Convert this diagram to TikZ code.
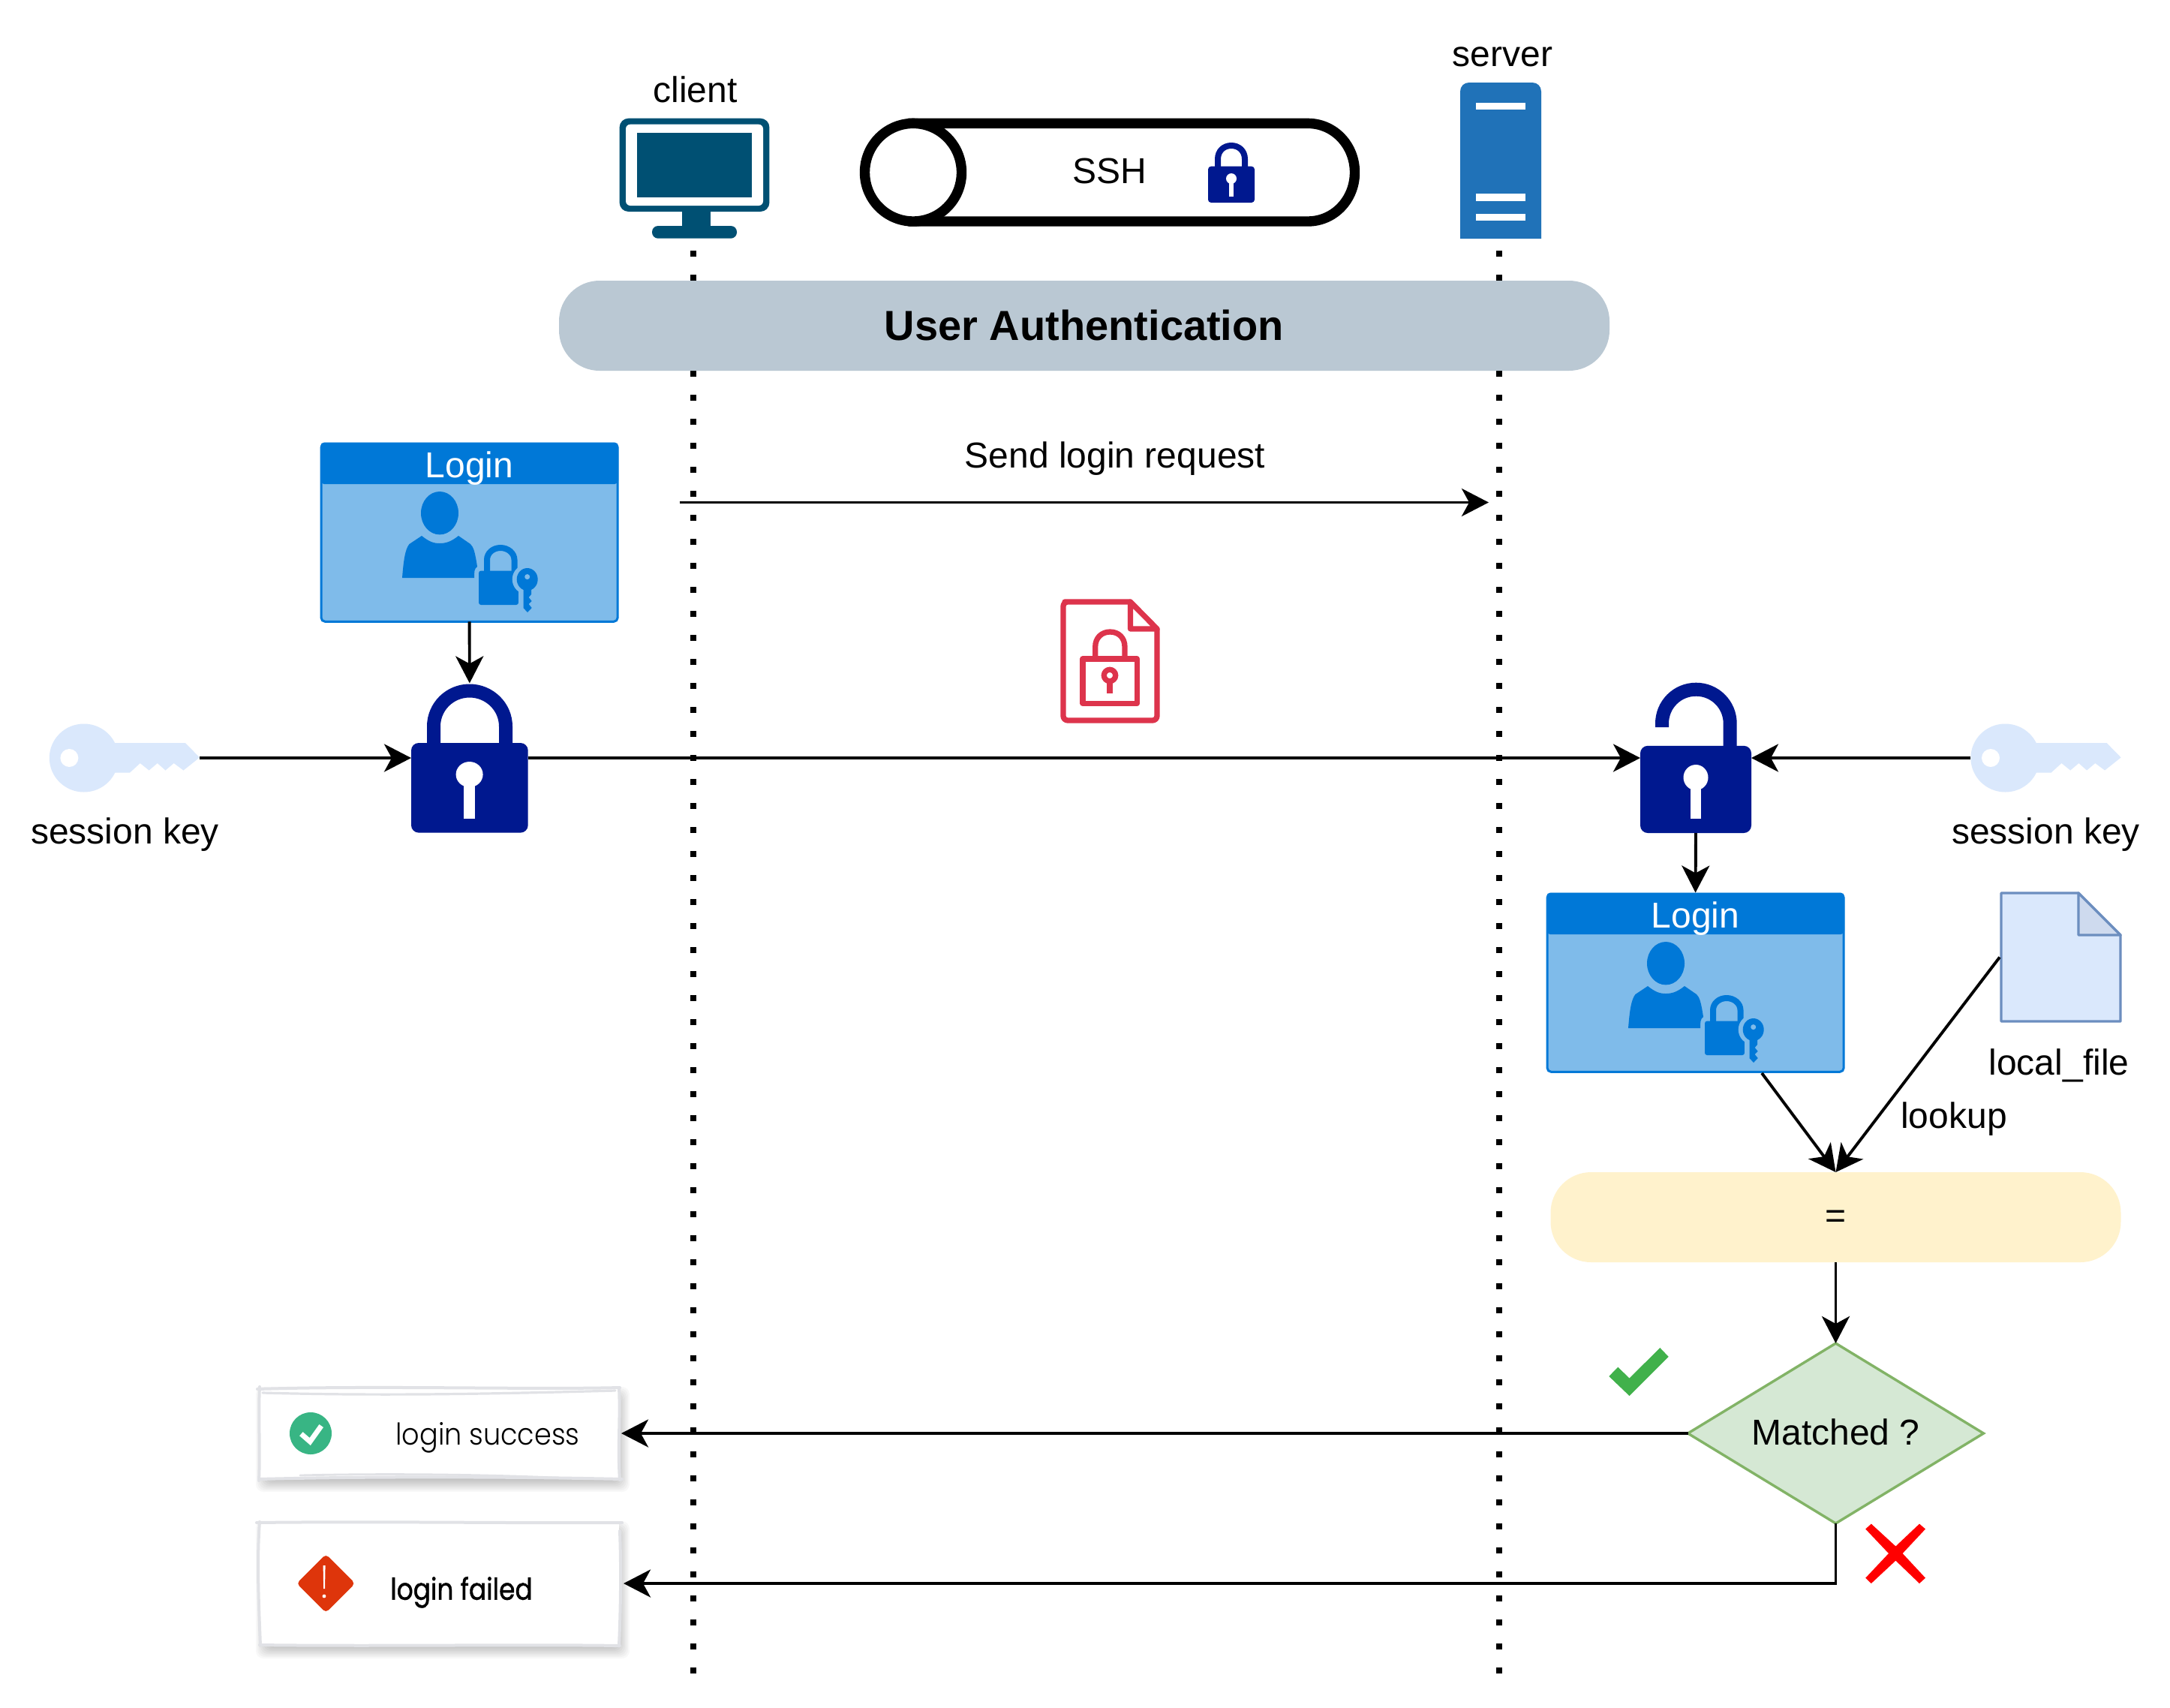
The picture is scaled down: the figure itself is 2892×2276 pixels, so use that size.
\documentclass[tikz,border=0pt]{standalone}
\usepackage{fontspec}
\setmainfont{Liberation Sans}
\newfontfamily\handfont{Poppins Light}
\newfontfamily\handboldfont[FakeBold=1.2]{Poppins}
\usetikzlibrary{arrows.meta,shapes.geometric,fit,calc}
\definecolor{lockblue}{HTML}{00188F}
\definecolor{monitorblue}{HTML}{005073}
\definecolor{serverblue}{HTML}{2072B8}
\definecolor{loginblue}{HTML}{0078D7}
\definecolor{panelblue}{HTML}{7FBBEA}
\definecolor{keyblue}{HTML}{DAE8FC}
\definecolor{filestroke}{HTML}{6C8EBF}
\definecolor{filefold}{HTML}{CEDAEE}
\definecolor{barfill}{HTML}{BAC8D3}
\definecolor{eqfill}{HTML}{FFF2CC}
\definecolor{decfill}{HTML}{D5E8D4}
\definecolor{decstroke}{HTML}{82B366}
\definecolor{docred}{HTML}{DD344C}
\definecolor{tickgreen}{HTML}{41B14B}
\definecolor{okgreen}{HTML}{38B584}
\definecolor{alertred}{HTML}{DE350B}
\definecolor{sketchgray}{HTML}{E1E2E6}
\tikzset{
  x=0.5pt,y=-0.5pt,
  every node/.style={font=\fontsize{24pt}{28pt}\selectfont,inner sep=0pt,outer sep=0pt},
  conn/.style={draw=black,line width=1.95pt,-{Stealth[length=18pt,width=18.5pt,inset=5pt]}},
  lifeline/.style={draw=black,line width=4pt,dash pattern=on 4pt off 12pt},
  label/.style={anchor=base,text=black},
  pill/.style={rounded corners=27pt,minimum height=60pt},
  bound/.style={inner sep=0pt,outer sep=0pt},
  sketchline/.style={draw=sketchgray,line width=2pt,line cap=round},
}
\newcommand{\bigkey}[3]{%
 \begin{scope}[shift={(#2,#3)}]
  \node[bound,fit={(65.8,964.5)(266,1055.5)}] (#1) {};
  \fill[keyblue] (111.8,1010) ellipse[x radius=46,y radius=45.5];
  \fill[keyblue] (140,990) -- (247,990) -- (266,1009.4) -- (244.5,1026.5) -- (231.7,1017) -- (220.5,1026.5) -- (209.8,1017) -- (198.6,1026.5) -- (186.8,1017) -- (173,1029.6) -- (140,1029.6) -- cycle;
  \fill[white] (92.4,1010) ellipse[x radius=12,y radius=12];
 \end{scope}}
\newcommand{\keyholeshape}[6]{% cx cy rx ry stemhalf stemend
  \fill[white] (#1,#2) ellipse[x radius=#3,y radius=#4];
  \fill[white] ({#1-#5},#2) rectangle ({#1+#5},#6);}
\newcommand{\loginpanel}[3]{%
 \begin{scope}[shift={(#2,#3)}]
  \node[draw=loginblue,line width=1.5pt,fill=panelblue,rounded corners=2.5pt,minimum width=197.5pt,minimum height=118.5pt] (#1) at (625.6,709.75) {};
  \node[fill=loginblue,rounded corners=2.5pt,minimum width=198.5pt,minimum height=27.3pt,text=white,text height=23.5pt,text depth=4.3pt] (#1title) at (625.6,617.3) {Login};
  \fill[loginblue] (586,683.7) ellipse[x radius=25,y radius=28.7];
  \fill[loginblue] (536,770) .. controls (538,745) and (540,732) .. (545.5,725) -- (562,714) .. controls (572,722) and (578,724) .. (586,724) .. controls (594,724) and (601,722) .. (611,714) -- (627,725) .. controls (631,729) and (633,735) .. (636,755) .. controls (632,758) and (632,762) .. (632,770) -- cycle;
  \draw[loginblue,line width=4pt] (649,762) -- (649,746) .. controls (649,737) and (657,730) .. (667,730) .. controls (677,730) and (685.5,737) .. (685.5,746) -- (685.5,762);
  \fill[loginblue,rounded corners=1.5pt] (638,760.6) rectangle (691,806);
  \fill[panelblue] (702.7,772) ellipse[x radius=20,y radius=20];
  \fill[panelblue] (691,780) rectangle (696,807);
  \fill[loginblue] (702.7,772) ellipse[x radius=14,y radius=15];
  \fill[panelblue] (702.7,768.6) ellipse[x radius=3.5,y radius=3.5];
  \fill[loginblue] (697.5,783) -- (708,783) -- (708,792) -- (704.7,796) -- (708.7,801) -- (704.7,805) -- (708.7,810) -- (703,816) -- (697.5,810) -- cycle;
 \end{scope}}
\newcommand{\softshadow}[4]{% x1 y1 x2 y2
  \foreach \s in {0,2,...,18}{
    \fill[black,opacity=0.028,rounded corners=5pt] ({#1+4-10+\s},{#2+6-10+\s}) rectangle ({#3+4+10-\s},{#4+6+10-\s});
  }}
\begin{document}
\begin{tikzpicture}
\useasboundingbox (0,0) rectangle (2892,2276);
\fill[white] (0,0) rectangle (2892,2276);

% lifelines
\coordinate (clientTop) at (924,334);
\coordinate (clientEnd) at (924,2230);
\coordinate (serverTop) at (1998,334);
\coordinate (serverEnd) at (1998,2230);
\draw[lifeline] (clientTop) -- (clientEnd);
\draw[lifeline] (serverTop) -- (serverEnd);

% client icon
\node[bound,fit={(825.6,157.7)(1025.4,317.7)}] (clientIcon) {};
\fill[monitorblue,rounded corners=6pt] (825.6,157.7) rectangle (1025.4,282);
\fill[white,rounded corners=3pt] (834,165.7) rectangle (1017,274);
\fill[monitorblue] (849,176.7) rectangle (1002,262.7);
\fill[monitorblue] (909,280) rectangle (947,303);
\fill[monitorblue,rounded corners=4pt] (869,301) rectangle (982,317.7);
\node[label] (clientLabel) at (926.5,136.5) {client};

% server icon
\node[bound,fit={(1946,110)(2054,318)}] (serverIcon) {};
\fill[serverblue] (1946,318) -- (1946,122) .. controls (1946,115) and (1951,110) .. (1958,110) -- (2042,110) .. controls (2049,110) and (2054,115) .. (2054,122) -- (2054,318) -- cycle;
\fill[white] (1967,136.7) rectangle (2033,145.7);
\fill[white] (1967,258) rectangle (2033,268);
\fill[white] (1967,285) rectangle (2033,294);
\node[label] (serverLabel) at (2002.6,88) {server};

% SSH tunnel
\node[bound,fit={(1146,157.7)(1813,301.7)}] (tunnel) {};
\draw[black,line width=6.7pt,fill=white] (1217,164.4) -- (1743,164.4) .. controls (1778,164.4) and (1805.5,193.6) .. (1805.5,229.7) .. controls (1805.5,265.8) and (1778,295) .. (1743,295) -- (1217,295) -- cycle;
\draw[black,line width=6.7pt,fill=white] (1217,229.7) ellipse[x radius=64.5,y radius=65.3];
\node[label] (sshLabel) at (1479,244.5) {SSH};
\draw[lockblue,line width=4pt] (1623,224) -- (1623,212) .. controls (1623,201) and (1631,194) .. (1641,194) .. controls (1651,194) and (1659,201) .. (1659,212) -- (1659,224);
\fill[lockblue,rounded corners=2pt] (1610,221.7) rectangle (1672,270);
\keyholeshape{1641}{238}{7}{7}{3}{261.7}

% bar
\node[pill,fill=barfill,minimum width=700pt,text height=23.5pt,text depth=4.3pt,font=\fontsize{28pt}{32pt}\selectfont\bfseries] (authBar) at (1445,434) {User Authentication};

% request
\coordinate (reqFrom) at (905.5,669.5);
\coordinate (reqTo) at (1984,669.5);
\draw[conn] (reqFrom) -- (reqTo);
\node[label] (reqLabel) at (1486,623) {Send login request};

% panels
\loginpanel{panelL}{0}{0}
\loginpanel{panelR}{1634}{600}

% keys
\bigkey{keyL}{0}{0}
\bigkey{keyR}{2560.6}{0}
\node[label] (keyLabelL) at (166.4,1124.5) {session key};
\node[label] (keyLabelR) at (2726.5,1124.5) {session key};

% closed lock
\node[bound,fit={(548,910.4)(703.7,1109.6)}] (lockL) {};
\draw[lockblue,line width=9pt] (578,995) -- (578,968) .. controls (578,941.5) and (599.5,920.5) .. (625.8,920.5) .. controls (652,920.5) and (674,941.5) .. (674,968) -- (674,995);
\fill[lockblue,rounded corners=5pt] (548,990) rectangle (703.7,1109.6);
\keyholeshape{625.6}{1032}{18}{17}{7.5}{1090.5}

% open lock
\node[bound,fit={(2186,910)(2334,1110)}] (lockR) {};
\draw[lockblue,line width=9pt] (2215,969) -- (2215,964) .. controls (2215,939) and (2235,918.7) .. (2260.4,918.7) .. controls (2285.5,918.7) and (2305.7,939) .. (2305.7,964) -- (2305.7,998);
\fill[lockblue,rounded corners=5pt] (2186,993.8) rectangle (2334,1110);
\keyholeshape{2260}{1036}{16.5}{17}{7}{1090.7}

% encrypted document icon
\node[bound,fit={(1413,798)(1545.7,964)}] (docIcon) {};
\begin{scope}[docred,line width=3.65pt,line join=round]
  \draw[rounded corners=3pt] (1506.5,802) -- (1425,802) -- (1417,802) -- (1417,960) -- (1542,960) -- (1542,838);
  \draw (1506.5,802) -- (1542,838) -- (1506.5,838) -- cycle;
  \draw (1443,878) rectangle (1515.3,937.3);
  \draw (1459.7,878) -- (1459.7,862) .. controls (1459.7,850) and (1468,842) .. (1479.4,842) .. controls (1491,842) and (1499,850) .. (1499,862) -- (1499,878);
  \draw (1479,900) circle[radius=7.7];
  \draw (1479,908) -- (1479,924);
\end{scope}

% local file
\node[bound,fit={(2665,1188)(2828,1363)}] (fileIcon) {};
\draw[filestroke,fill=keyblue,line width=1.7pt,line join=round] (2667,1190) -- (2770,1190) -- (2826,1246) -- (2826,1361) -- (2667,1361) -- cycle;
\draw[filestroke,fill=filefold,line width=1.7pt,line join=round] (2770,1190) -- (2826,1246) -- (2770,1246) -- cycle;
\node[label] (fileLabel) at (2744,1432) {local\_file};
\node[label] (lookupLabel) at (2604,1503) {lookup};

% compare and decide
\node[pill,fill=eqfill,minimum width=380pt,text height=18.5pt,text depth=4pt] (eqBar) at (2446.5,1622) {=\hspace{2pt}};
\node[diamond,aspect=1.643,draw=decstroke,fill=decfill,line width=1.7pt,minimum width=197pt,minimum height=120pt,text height=19.5pt,text depth=4.5pt] (decide) at (2446.5,1910) {Matched ?};
\fill[tickgreen] (2144.3,1834) -- (2156.3,1821.7) -- (2171.5,1836.6) -- (2212.3,1796) -- (2223.7,1807.9) -- (2171.5,1860) -- cycle;
\fill[red] (2493.8,2030.6) -- (2526.4,2060.5) -- (2558,2030.6) -- (2566,2037.5) -- (2535.6,2070) -- (2566,2102.7) -- (2558,2110) -- (2526.4,2079.6) -- (2493.8,2110) -- (2486.2,2102.7) -- (2517,2070) -- (2486.2,2037.5) -- cycle;

% result boxes
\softshadow{347}{1852}{825}{1972}
\softshadow{347}{2031}{825}{2194}
\fill[white] (345.7,1850) rectangle (825,1970);
\fill[white] (345.7,2028) rectangle (825,2192);
\node[bound,fit={(345.7,1850)(828,1970)}] (okBox) {};
\node[bound,fit={(345.7,2028)(831,2192)}] (failBox) {};
\draw[sketchline] (343,1851) .. controls (500,1846) and (700,1852) .. (826,1849);
\draw[sketchline,line width=1.6pt] (350,1856) .. controls (500,1860) and (640,1858) .. (820,1853);
\draw[sketchline] (346,1848) .. controls (344,1890) and (347,1930) .. (345,1973);
\draw[sketchline] (825,1849) .. controls (827,1890) and (823,1930) .. (826,1972);
\draw[sketchline] (345,1971) .. controls (500,1967) and (700,1968) .. (829,1971);
\draw[sketchline,line width=1.4pt] (400,1966) .. controls (520,1963) and (660,1965) .. (760,1970);
\draw[sketchline] (342,2029) .. controls (500,2027) and (700,2030) .. (829,2029);
\draw[sketchline] (346,2028) .. controls (342,2080) and (345,2140) .. (347,2193);
\draw[sketchline] (826,2040) .. controls (828,2090) and (827,2150) .. (825,2192);
\draw[sketchline] (346,2192) .. controls (500,2194) and (700,2191) .. (826,2193);

\fill[okgreen] (414,1910) circle[radius=28];
\draw[white,line width=3.4pt] (401.4,1910.7) -- (413.2,1921) -- (428.2,1900);
\node[label,font=\handfont\fontsize{20pt}{24pt}\selectfont] (okLabel) at (650,1925) {\scalebox{0.916}[1]{login success}};

\fill[alertred,rounded corners=2.5pt] (434.3,2071) -- (473.3,2110) -- (434.3,2149) -- (395.3,2110) -- cycle;
\fill[white] (430.6,2086) -- (433.6,2086) -- (433,2117) -- (431.2,2117) -- cycle;
\fill[white] (432,2127) circle[radius=2.4];
\node[label,font=\handboldfont\fontsize{20pt}{24pt}\selectfont] (failLabel) at (615,2131.7) {\scalebox{0.86}[1]{login failed}};

% connectors
\draw[conn] (panelL.south) -- (lockL.north);
\draw[conn] (keyL.east) -- (lockL.west);
\draw[conn] (lockL.east) -- (lockR.west);
\draw[conn] (keyR.west) -- (lockR.east);
\draw[conn] (lockR.south) -- (panelRtitle.north);
\coordinate (panelRout) at (2348,1430);
\draw[conn] (panelRout) -- (eqBar.north);
\draw[conn] (fileIcon.west) -- (eqBar.north);
\draw[conn] (eqBar.south) -- (decide.north);
\draw[conn] (decide.west) -- (okBox.east);
\draw[conn] (decide.south) |- (failBox.east);
\end{tikzpicture}
\end{document}
